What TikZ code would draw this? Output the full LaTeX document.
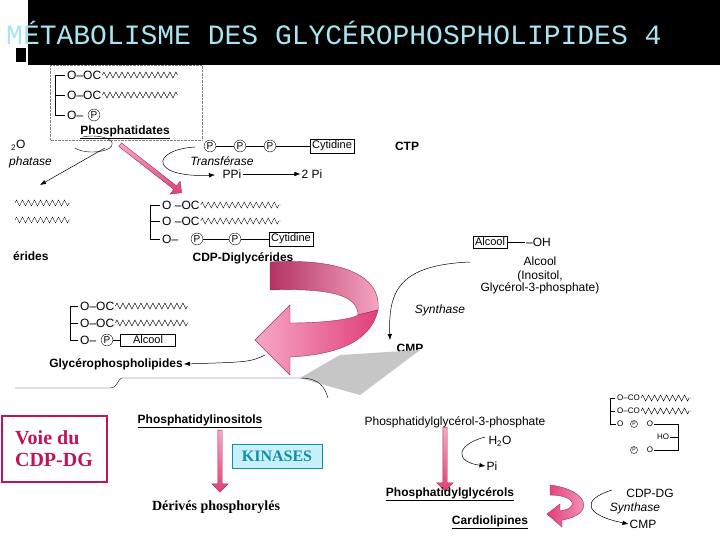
\documentclass[tikz,border=0pt]{standalone}
\usepackage{fontspec}
\setmainfont{Liberation Serif}
\setsansfont{Liberation Sans}
\setmonofont{Liberation Mono}
\usetikzlibrary{decorations.pathmorphing,arrows.meta,shapes.arrows}
\definecolor{pinkA}{HTML}{E0407A}
\definecolor{pinkB}{HTML}{F7A8C4}
\definecolor{voie}{HTML}{C0145A}
\definecolor{kin}{HTML}{0E8FA8}
\definecolor{kinfill}{HTML}{C8F0FA}
\definecolor{titc}{HTML}{A8E4F2}
\tikzset{
 lab/.style={font=\sffamily\fontsize{12}{14}\selectfont,inner sep=1pt},
 blab/.style={font=\sffamily\fontsize{12}{14}\selectfont\bfseries,inner sep=1pt},
 ital/.style={font=\sffamily\fontsize{12}{14}\selectfont\itshape,inner sep=1pt},
 wav/.style={decorate,decoration={zigzag,amplitude=3pt,segment length=6pt}},
 pcirc/.style={circle,draw,inner sep=0.8pt,font=\sffamily\fontsize{10}{11}\selectfont},
 sbox/.style={draw,font=\sffamily\fontsize{11}{12}\selectfont,inner sep=2pt},
 tiny/.style={font=\sffamily\fontsize{8}{9}\selectfont,inner sep=1pt},
 parrow/.style={single arrow,draw=pinkA!70!black,top color=pinkB,bottom color=pinkA,minimum height=#1,single arrow head extend=6pt,minimum width=16pt,inner sep=2pt},
 arr/.style={-{Latex[length=6pt]},line width=0.5pt}
}
\begin{document}
\begin{tikzpicture}[x=1pt,y=-1pt]
\useasboundingbox (0,0) rectangle (720,540);
\fill[white] (0,0) rectangle (720,540);
\fill[black] (28,0) rectangle (720,65);
\fill[black] (16,48) rectangle (26,62);
\node[anchor=west,text=titc,font=\ttfamily\fontsize{28}{30}\selectfont,inner sep=0] (title) at (6,33) {MÉTABOLISME DES GLYCÉROPHOSPHOLIPIDES 4};

% Phosphatidates
\draw (65,75) -- (55,75) -- (55,115) -- (65,115) (55,95) -- (65,95);
\node[lab,anchor=west] (pa1) at (66,75) {O–OC};
\node[lab,anchor=west] (pa2) at (66,95) {O–OC};
\node[lab,anchor=west] (pa3) at (66,115) {O–};
\node[pcirc] (pap) at (94,115) {P};
\draw[wav] (pa1.east) -- ++(75,0);
\draw[wav] (pa2.east) -- ++(75,0);
\node[blab] (phos) at (125,132) {\underline{Phosphatidates}};
\draw[densely dotted,gray] (50,65) rectangle (202,140);

% left fragments
\node[lab,anchor=west] (h2o1) at (10,145) {\textsubscript{2}O};
\node[ital,anchor=west] (phatase) at (8,162) {phatase};
\draw[wav] (15,203) -- (70,203);
\draw[wav] (15,220) -- (70,220);
\node[blab,anchor=west] (erides) at (12,256) {érides};
\draw[arr] (105,148) -- (40,185);
\draw (75,148) arc (30:300:-20 and 8);

% Transferase
\node[pcirc] (t1) at (210,146) {P};
\node[pcirc] (t2) at (240,146) {P};
\node[pcirc] (t3) at (270,146) {P};
\node[sbox] (tcyt) at (332,146) {Cytidine};
\draw (t1) -- (t2) -- (t3) -- (tcyt);
\node[blab] (ctp) at (407,146) {CTP};
\node[ital] (transf) at (222,161) {Transférase};
\node[lab] (ppi) at (232,174) {PPi};
\node[lab] (twopi) at (312,174) {2 Pi};
\draw[arr] (ppi) -- (twopi);
\draw[arr] (195,147) .. controls (150,150) and (150,178) .. (215,175);
\node[parrow=78pt,rotate=-38] (a1) at (150,168) {};

% CDP-diglycerides
\draw (160,205) -- (150,205) -- (150,239) -- (160,239) (150,221) -- (160,221);
\node[lab,anchor=west] (c1) at (161,205) {O –OC};
\node[lab,anchor=west] (c2) at (161,221) {O –OC};
\node[lab,anchor=west] (c3) at (161,239) {O–};
\node[pcirc] (cp1) at (197,239) {P};
\node[pcirc] (cp2) at (235,239) {P};
\node[sbox] (ccyt) at (291,239) {Cytidine};
\draw (cp1) -- (cp2) -- (ccyt);
\draw[wav] (c1.east) -- ++(80,0);
\draw[wav] (c2.east) -- ++(80,0);
\node[blab] (cdp) at (243,258) {CDP-Diglycérides};

% Alcool
\node[sbox] (alc) at (490,242) {Alcool};
\node[lab,anchor=west] (oh) at (525,242) {–OH};
\draw (alc) -- (oh);
\node[lab,align=center] (alcl) at (540,275) {Alcool\\(Inositol,\\[-2pt]Glycérol-3-phosphate)};
\node[ital] (synth) at (440,310) {Synthase};
\node[blab] (cmp) at (410,348) {CMP};
\draw[arr] (470,262) .. controls (400,265) and (388,290) .. (390,340);
\fill[gray!45] (340,355) -- (420,350) -- (360,395) -- (300,378) -- cycle;

% big curved pink arrow
\shade[left color=pinkA!80!black,right color=pinkB,draw=pinkA!70!black]
 (270,262) .. controls (340,258) and (382,275) .. (378,310)
 -- (358,315) .. controls (358,295) and (330,288) .. (270,290) -- cycle;
\shade[left color=pinkB,right color=pinkA,draw=pinkA!70!black]
 (378,310) .. controls (370,345) and (330,355) .. (290,357)
 -- (290,375) -- (255,340) -- (290,305) -- (290,323)
 .. controls (330,323) and (355,318) .. (358,315) -- cycle;

% glycerophospholipides
\draw (78,306) -- (70,306) -- (70,340) -- (78,340) (70,323) -- (78,323);
\node[lab,anchor=west] (g1) at (79,306) {O–OC};
\node[lab,anchor=west] (g2) at (79,323) {O–OC};
\node[lab,anchor=west] (g3) at (79,340) {O–};
\node[pcirc] (gp) at (107,340) {P};
\node[sbox,minimum width=55pt] (galc) at (148,340) {Alcool};
\draw (gp) -- (galc);
\draw[wav] (g1.east) -- ++(72,0);
\draw[wav] (g2.east) -- ++(72,0);
\node[blab] (glyc) at (116,364) {Glycérophospholipides};
\draw[arr] (265,355) .. controls (250,362) .. (glyc.east);
\draw (15,388) -- (110,388) .. controls (118,388) and (118,378) .. (122,378) -- (300,378) .. controls (320,378) and (325,388) .. (328,398);

% lower row
\node[blab] (pino) at (200,421) {\underline{Phosphatidylinositols}};
\node[lab] (pg3p) at (455,422) {Phosphatidylglycérol-3-phosphate};
\node[draw=voie,line width=2pt,minimum width=105pt,minimum height=66pt,align=left,text=voie,font=\bfseries\fontsize{20}{22}\selectfont] (voie) at (54,449) {Voie du\\ CDP-DG};
\node[parrow=62pt,rotate=-90] (a2) at (220,460) {};
\node[parrow=64pt,rotate=-90] (a3) at (445,458) {};
\node[draw=kin,fill=kinfill,minimum width=90pt,minimum height=24pt,text=kin,font=\bfseries\fontsize{16}{18}\selectfont] (kin) at (277,456) {KINASES};
\node[font=\bfseries\fontsize{14}{16}\selectfont] (der) at (216,507) {Dérivés phosphorylés};
\node[lab] (h2o) at (500,441) {H\textsubscript{2}O};
\node[lab] (pi) at (492,466) {Pi};
\draw[arr] (485,437) .. controls (455,445) and (455,462) .. (pi.west);
\node[blab] (pgl) at (450,494) {\underline{Phosphatidylglycérols}};
\node[blab] (card) at (490,522) {\underline{Cardiolipines}};
\node[lab] (cdpdg) at (650,493) {CDP-DG};
\node[ital] (syn2) at (635,508) {Synthase};
\node[lab] (cmp2) at (643,524) {CMP};
\draw[arr] (612,490) .. controls (580,500) and (585,515) .. (cmp2.west);
\shade[left color=pinkA,right color=pinkB,draw=pinkA!70!black]
 (550,485) .. controls (590,490) and (595,515) .. (562,520)
 -- (562,527) -- (547,514) -- (560,504) -- (560,511)
 .. controls (580,508) and (575,495) .. (550,495) -- cycle;

% right structure
\draw (615,398) -- (610,398) -- (610,424) -- (616,424) (610,411) -- (615,411);
\node[tiny,anchor=west] (r1) at (616,398) {O–CO};
\node[tiny,anchor=west] (r2) at (616,411) {O–CO};
\draw[wav] (r1.east) -- ++(50,0);
\draw[wav] (r2.east) -- ++(50,0);
\node[tiny,anchor=west] (r3) at (616,424) {O};
\node[pcirc,font=\sffamily\tiny] (rp1) at (634,424) {P};
\node[tiny] (r4) at (650,424) {O};
\node[tiny] (r5) at (663,437) {HO};
\node[pcirc,font=\sffamily\tiny] (rp2) at (634,450) {P};
\node[tiny] (r6) at (650,450) {O};
\draw (r4) -- (678,424) -- (678,450) -- (r6) (r5) -- (678,437);
\end{tikzpicture}
\end{document}
